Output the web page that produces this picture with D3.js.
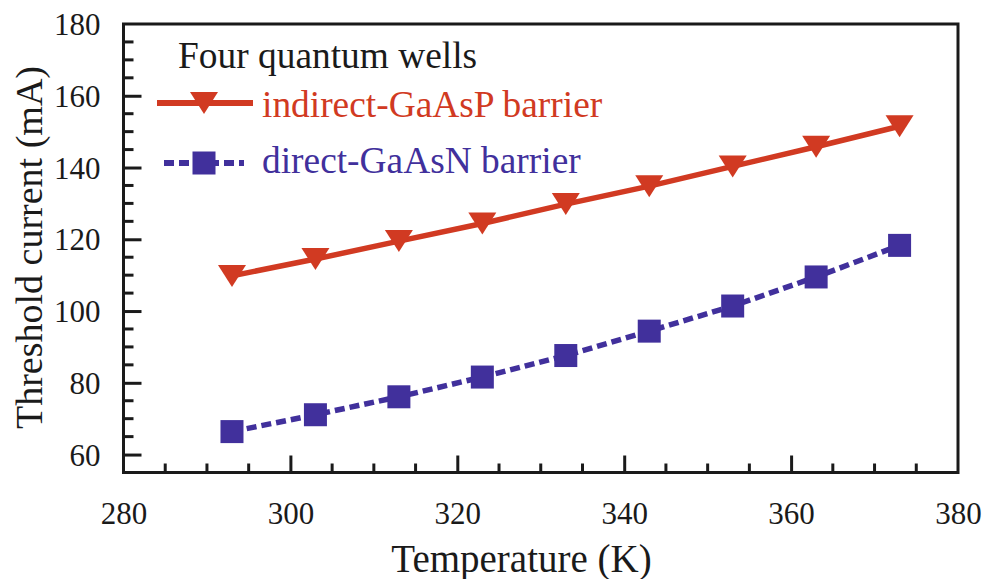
<!DOCTYPE html>
<html>
<head>
<meta charset="utf-8">
<script src="https://cdn.jsdelivr.net/npm/d3@7"></script>
<style>
  body { margin: 0; background: #fff; }
  text { font-family: "Liberation Serif", "Times New Roman", serif; }
</style>
</head>
<body>
<div id="chart-area"></div>
<script>

// data
let temps = [293, 303, 313, 323, 333, 343, 353, 363, 373];
let indirectGaAsP = [109.8, 114.5, 119.5, 124.4, 129.8, 134.8, 140.3, 145.8, 151.5];
let directGaAsN = [66.4, 71.1, 76.1, 81.6, 87.6, 94.4, 101.4, 109.5, 118.3];
let xTicks = [280, 300, 320, 340, 360, 380];
let yTicks = [60, 80, 100, 120, 140, 160, 180];
let legendTitle = 'Four quantum wells';
let seriesNames = ['indirect-GaAsP barrier', 'direct-GaAsN barrier'];

let red = '#d13a22',
	blue = '#41309c';

//**************** Canvas *****************//

let margin = { left: 123.5, right: 38, top: 24, bottom: 106.5 };
let width = 996 - margin.left - margin.right,
	height = 579 - margin.top - margin.bottom;

let svg = d3.select('#chart-area').append('svg')
	.attr('width', 996)
	.attr('height', 579);

let g = svg.append('g')
	.attr('transform', 'translate(' + margin.left + ', ' + margin.top + ')');

//**************** Scales & Axes *****************//

let x = d3.scaleLinear().domain([280, 380]).range([0, width]);
let y = d3.scaleLinear().domain([55, 180]).range([height, 0]);

// minor ticks every 5
let xMinor = d3.range(280, 381, 5).filter(v => v % 20 !== 0);
let yMinor = d3.range(60, 181, 5).filter(v => v % 20 !== 0);

// x axis: ticks pointing inward
let xAxis = g.append('g')
	.attr('transform', 'translate(0, ' + height + ')');
xAxis.call(d3.axisBottom(x).tickValues(xTicks).tickSize(-17).tickPadding(0).tickFormat(d3.format('d')));
xAxis.selectAll('.tick text').attr('dy', null).attr('y', 51);
xAxis.selectAll('.tick').filter(d => d === 280 || d === 380).select('line').remove();
xAxis.selectAll('.minor').data(xMinor).enter().append('line')
	.attr('class', 'minor')
	.attr('x1', d => x(d)).attr('x2', d => x(d))
	.attr('y1', 0).attr('y2', -9);

let yAxis = g.append('g');
yAxis.call(d3.axisLeft(y).tickValues(yTicks).tickSize(-18).tickPadding(0).tickFormat(d3.format('d')));
yAxis.selectAll('.tick text').attr('x', -23).attr('dy', '0.34em');
yAxis.selectAll('.tick').filter(d => d === 180).select('line').remove();
yAxis.selectAll('.minor').data(yMinor).enter().append('line')
	.attr('class', 'minor')
	.attr('x1', 0).attr('x2', 10)
	.attr('y1', d => y(d)).attr('y2', d => y(d));

svg.selectAll('.domain').remove();
svg.selectAll('.tick line, .minor').attr('stroke', '#1a1a1a').attr('stroke-width', 3);
svg.selectAll('.tick text')
	.attr('fill', '#1a1a1a')
	.attr('font-size', '31px')
	.attr('font-family', '"Liberation Serif", serif');

// frame
g.append('rect')
	.attr('x', 0).attr('y', 0)
	.attr('width', width).attr('height', height)
	.attr('fill', 'none')
	.attr('stroke', '#1a1a1a')
	.attr('stroke-width', 3);

//**************** Labels *****************//

g.append('text')
	.attr('x', 521.5 - margin.left)
	.attr('y', height + 99)
	.attr('font-size', '39px')
	.attr('text-anchor', 'middle')
	.attr('fill', '#1a1a1a')
	.text('Temperature (K)');

g.append('text')
	.attr('x', -(247.5 - margin.top))
	.attr('y', -margin.left + 42)
	.attr('font-size', '38px')
	.attr('text-anchor', 'middle')
	.attr('transform', 'rotate(-90)')
	.attr('fill', '#1a1a1a')
	.text('Threshold current (mA)');

//**************** Series *****************//

let redData = temps.map((t, i) => ({ t: t, v: indirectGaAsP[i] }));
let blueData = temps.map((t, i) => ({ t: t, v: directGaAsN[i] }));

let line = d3.line().x(d => x(d.t)).y(d => y(d.v));

g.append('path')
	.datum(redData)
	.attr('d', line)
	.attr('fill', 'none')
	.attr('stroke', red)
	.attr('stroke-width', 5.5);

g.append('path')
	.datum(blueData)
	.attr('d', line)
	.attr('fill', 'none')
	.attr('stroke', blue)
	.attr('stroke-width', 5.5)
	.attr('stroke-dasharray', '10,5');

// triangle down, centred on the point
let tri = 'M-14,-11L14,-11L0,11Z';

g.selectAll('.tri').data(redData).enter().append('path')
	.attr('class', 'tri')
	.attr('d', tri)
	.attr('transform', d => 'translate(' + x(d.t) + ',' + y(d.v) + ')')
	.attr('fill', red);

g.selectAll('.sq').data(blueData).enter().append('rect')
	.attr('class', 'sq')
	.attr('x', d => x(d.t) - 11.5)
	.attr('y', d => y(d.v) - 11.5)
	.attr('width', 23).attr('height', 23)
	.attr('fill', blue);

//**************** Legend *****************//

let legend = svg.append('g');

legend.append('text')
	.attr('x', 178).attr('y', 68)
	.attr('font-size', '37.4px')
	.attr('fill', '#1a1a1a')
	.text(legendTitle);

legend.append('line')
	.attr('x1', 157).attr('x2', 253)
	.attr('y1', 103).attr('y2', 103)
	.attr('stroke', red).attr('stroke-width', 6);
legend.append('path')
	.attr('d', tri)
	.attr('transform', 'translate(204,103)')
	.attr('fill', red);
legend.append('text')
	.attr('x', 262).attr('y', 117)
	.attr('font-size', '37.4px')
	.attr('fill', red)
	.text(seriesNames[0]);

legend.append('line')
	.attr('x1', 164).attr('x2', 244)
	.attr('y1', 163).attr('y2', 163)
	.attr('stroke', blue).attr('stroke-width', 6)
	.attr('stroke-dasharray', '10,5');
legend.append('rect')
	.attr('x', 204 - 11.5).attr('y', 163 - 11.5)
	.attr('width', 23).attr('height', 23)
	.attr('fill', blue);
legend.append('text')
	.attr('x', 262).attr('y', 173)
	.attr('font-size', '37.4px')
	.attr('fill', blue)
	.text(seriesNames[1]);

</script>
</body>
</html>
